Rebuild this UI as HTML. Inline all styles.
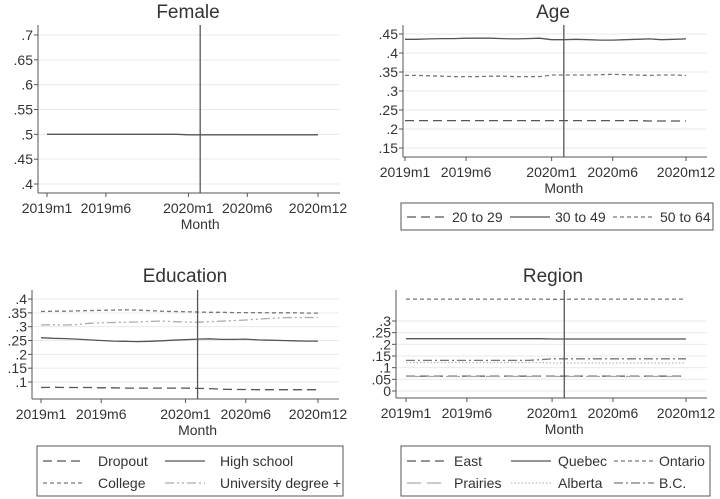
<!DOCTYPE html>
<html><head><meta charset="utf-8"><style>
body{margin:0;background:#fff;}
svg{display:block;font-family:"Liberation Sans",sans-serif;}
</style></head><body>
<svg id="c" width="720" height="499" viewBox="0 0 720 499"></svg>
<script>
const monthLabels=["2019m1","2019m6","2020m1","2020m6","2020m12"];
const monthTickIdx=[0,5,12,17,23];
const female=[0.5,0.5,0.5,0.5,0.5,0.5,0.5,0.5,0.5,0.5,0.5,0.5,0.499,0.499,0.499,0.499,0.499,0.499,0.499,0.499,0.499,0.499,0.499,0.499];
const age2029=[0.222,0.222,0.222,0.222,0.222,0.222,0.222,0.222,0.222,0.222,0.222,0.222,0.222,0.222,0.222,0.222,0.222,0.222,0.222,0.222,0.221,0.221,0.221,0.221];
const age3049=[0.436,0.436,0.437,0.438,0.438,0.439,0.439,0.439,0.438,0.437,0.438,0.439,0.435,0.435,0.436,0.435,0.434,0.434,0.435,0.436,0.437,0.435,0.436,0.437];
const age5064=[0.341,0.341,0.340,0.339,0.338,0.338,0.338,0.339,0.339,0.338,0.338,0.338,0.342,0.342,0.342,0.342,0.343,0.344,0.343,0.342,0.341,0.342,0.342,0.341];
const eduDropout=[0.08,0.081,0.08,0.08,0.08,0.079,0.079,0.078,0.078,0.078,0.078,0.078,0.078,0.077,0.076,0.074,0.073,0.073,0.072,0.072,0.072,0.072,0.072,0.072];
const eduHS=[0.26,0.258,0.257,0.255,0.252,0.25,0.248,0.247,0.246,0.247,0.249,0.251,0.253,0.255,0.256,0.254,0.254,0.255,0.252,0.251,0.25,0.249,0.248,0.248];
const eduCollege=[0.355,0.356,0.356,0.357,0.358,0.359,0.36,0.361,0.36,0.358,0.356,0.355,0.354,0.353,0.352,0.352,0.351,0.351,0.351,0.35,0.35,0.35,0.349,0.349];
const eduUniv=[0.306,0.307,0.306,0.308,0.312,0.314,0.315,0.316,0.317,0.319,0.32,0.318,0.317,0.316,0.318,0.32,0.322,0.324,0.327,0.33,0.332,0.333,0.333,0.333];
const regEast=[0.064,0.064,0.064,0.064,0.064,0.064,0.064,0.064,0.064,0.064,0.064,0.064,0.064,0.064,0.064,0.064,0.064,0.064,0.064,0.064,0.064,0.064,0.064,0.064];
const regQuebec=[0.224,0.224,0.224,0.224,0.224,0.224,0.224,0.224,0.224,0.224,0.224,0.224,0.223,0.223,0.223,0.223,0.223,0.223,0.223,0.223,0.223,0.223,0.223,0.223];
const regOntario=[0.394,0.394,0.394,0.394,0.394,0.394,0.394,0.394,0.394,0.394,0.394,0.394,0.393,0.393,0.394,0.394,0.394,0.394,0.394,0.394,0.394,0.394,0.394,0.394];
const regPrairies=[0.062,0.062,0.062,0.062,0.062,0.062,0.062,0.062,0.062,0.062,0.062,0.062,0.062,0.062,0.062,0.062,0.062,0.062,0.062,0.062,0.062,0.062,0.062,0.062];
const regAlberta=[0.122,0.122,0.122,0.122,0.122,0.122,0.122,0.122,0.122,0.122,0.122,0.122,0.12,0.12,0.12,0.12,0.12,0.12,0.12,0.12,0.12,0.12,0.12,0.12];
const regBC=[0.131,0.131,0.131,0.131,0.131,0.131,0.131,0.131,0.131,0.131,0.131,0.134,0.138,0.138,0.138,0.138,0.138,0.138,0.138,0.138,0.138,0.138,0.138,0.138];
const femaleTicks=[0.4,0.45,0.5,0.55,0.6,0.65,0.7];
const ageTicks=[0.15,0.2,0.25,0.3,0.35,0.4,0.45];
const eduTicks=[0.1,0.15,0.2,0.25,0.3,0.35,0.4];
const regTicks=[0,0.05,0.1,0.15,0.2,0.25,0.3];

const NS="http://www.w3.org/2000/svg";
const svg=document.getElementById('c');
function el(tag,attrs,parent){const e=document.createElementNS(NS,tag);for(const k in attrs)e.setAttribute(k,attrs[k]);(parent||svg).appendChild(e);return e;}
function fmt(v){if(v===0)return "0";return String(+v.toFixed(2)).replace(/^0/,"");}
const C="#555";
function panel(p){
  const g=el('g',{});
  
  
  const xs=i=>p.x0+(p.x1-p.x0)*i/23;
  const ys=v=>p.yA+(p.yB-p.yA)*(v-p.vA)/(p.vB-p.vA);
  p.ticks.forEach(t=>{
    const y=ys(t);
    const gl=el('line',{x1:p.ax,x2:p.right,y1:y,y2:y,stroke:'#eaeaea','stroke-width':1},g);
    
    
    el('line',{x1:p.ax-4,x2:p.ax,y1:y,y2:y,stroke:C},g);
    const tx=el('text',{x:p.ax-5,y:y+5,'text-anchor':'end','font-size':14,fill:'#333'},g);
    tx.textContent=fmt(t);
    
    
  });
  el('line',{x1:p.ax,x2:p.ax,y1:p.top,y2:p.bottom,stroke:C},g);
  el('line',{x1:p.ax,x2:p.right,y1:p.bottom,y2:p.bottom,stroke:C},g);
  monthTickIdx.forEach((m,k)=>{
    const x=xs(m);
    el('line',{x1:x,x2:x,y1:p.bottom,y2:p.bottom+4,stroke:C},g);
    const tx=el('text',{x:x,y:p.bottom+20,'text-anchor':'middle','font-size':14,fill:'#333'},g);
    tx.textContent=monthLabels[k];
    
    
  });
  const xt=el('text',{x:xs(13),y:p.bottom+36,'text-anchor':'middle','font-size':14,fill:'#333'},g);
  xt.textContent='Month';
  
  
  const tt=el('text',{x:p.tx,y:p.ty,'text-anchor':'middle','font-size':19,fill:'#333'},g);
  tt.textContent=p.title;
  
  
  p.series.forEach(s=>{
    const d=s.data.map((v,i)=>(i?'L':'M')+xs(i).toFixed(1)+','+ys(v).toFixed(1)).join('');
    const pa=el('path',{d:d,fill:'none',stroke:s.c||C,'stroke-width':1.3,'stroke-dasharray':s.dash||''},g);
    
    
  });
  const vl=el('line',{x1:xs(13),x2:xs(13),y1:p.top,y2:p.bottom,stroke:C,'stroke-width':1.3},g);
  
  
  if(p.legend){
    const L=p.legend;
    const lg=el('g',{},g);
    
    
    el('rect',{x:L.x,y:L.y,width:L.w,height:L.h,fill:'#fff',stroke:C},lg);
    L.items.forEach(it=>{
      const s=p.series.find(q=>q.n===it.n);
      el('line',{x1:it.x,x2:it.x+40,y1:it.y-5,y2:it.y-5,stroke:s.c||C,'stroke-width':1.3,'stroke-dasharray':s.dash||''},lg);
      const t=el('text',{x:it.x+it.tdx,y:it.y,'font-size':14,fill:'#333'},lg);
      t.textContent=it.label;
      
      
    });
  }
}
panel({name:'female',title:'Female',tx:188,ty:18,ax:38,right:340,top:25,bottom:193,x0:47,x1:318,yA:184,yB:35,vA:0.4,vB:0.7,ticks:femaleTicks,
  series:[{n:'female',data:female}]});
panel({name:'age',title:'Age',tx:553,ty:18,ax:403,right:707,top:25,bottom:157,x0:405,x1:686,yA:148,yB:34,vA:0.15,vB:0.45,ticks:ageTicks,
  series:[{n:'20-29',data:age2029,dash:'9,5'},{n:'30-49',data:age3049},{n:'50-64',data:age5064,dash:'4,3',c:'#777'}],
  legend:{x:401,y:203,w:312,h:27,items:[{n:'20-29',label:'20 to 29',x:407,y:222,tdx:45},{n:'30-49',label:'30 to 49',x:510,y:222,tdx:45},{n:'50-64',label:'50 to 64',x:613,y:222,tdx:47}]}});
panel({name:'education',title:'Education',tx:185,ty:282,ax:32,right:339,top:290,bottom:399,x0:41,x1:318,yA:382,yB:299,vA:0.1,vB:0.4,ticks:eduTicks,
  series:[{n:'dropout',data:eduDropout,dash:'9,5'},{n:'highschool',data:eduHS},{n:'college',data:eduCollege,dash:'4,3',c:'#777'},{n:'university',data:eduUniv,dash:'9,3,2,3,2,3',c:'#aaa'}],
  legend:{x:37,y:446,w:306,h:50,items:[{n:'dropout',label:'Dropout',x:43,y:466,tdx:55},{n:'highschool',label:'High school',x:165,y:466,tdx:55},{n:'college',label:'College',x:43,y:488,tdx:55},{n:'university',label:'University degree +',x:165,y:488,tdx:55}]}});
panel({name:'region',title:'Region',tx:553,ty:282,ax:396,right:707,top:290,bottom:398,x0:406,x1:686,yA:391,yB:321,vA:0,vB:0.3,ticks:regTicks,
  series:[{n:'east',data:regEast,dash:'9,5'},{n:'quebec',data:regQuebec},{n:'ontario',data:regOntario,dash:'4,3',c:'#777'},{n:'prairies',data:regPrairies,dash:'14,6',c:'#aaa'},{n:'alberta',data:regAlberta,dash:'1.5,2',c:'#bbb'},{n:'bc',data:regBC,dash:'9,3,2,3',c:'#777'}],
  legend:{x:401,y:446,w:309,h:50,items:[{n:'east',label:'East',x:407,y:466,tdx:47},{n:'quebec',label:'Quebec',x:511,y:466,tdx:47},{n:'ontario',label:'Ontario',x:614,y:466,tdx:45},{n:'prairies',label:'Prairies',x:407,y:488,tdx:47},{n:'alberta',label:'Alberta',x:511,y:488,tdx:47},{n:'bc',label:'B.C.',x:614,y:488,tdx:45}]}});
</script>
</body></html>
